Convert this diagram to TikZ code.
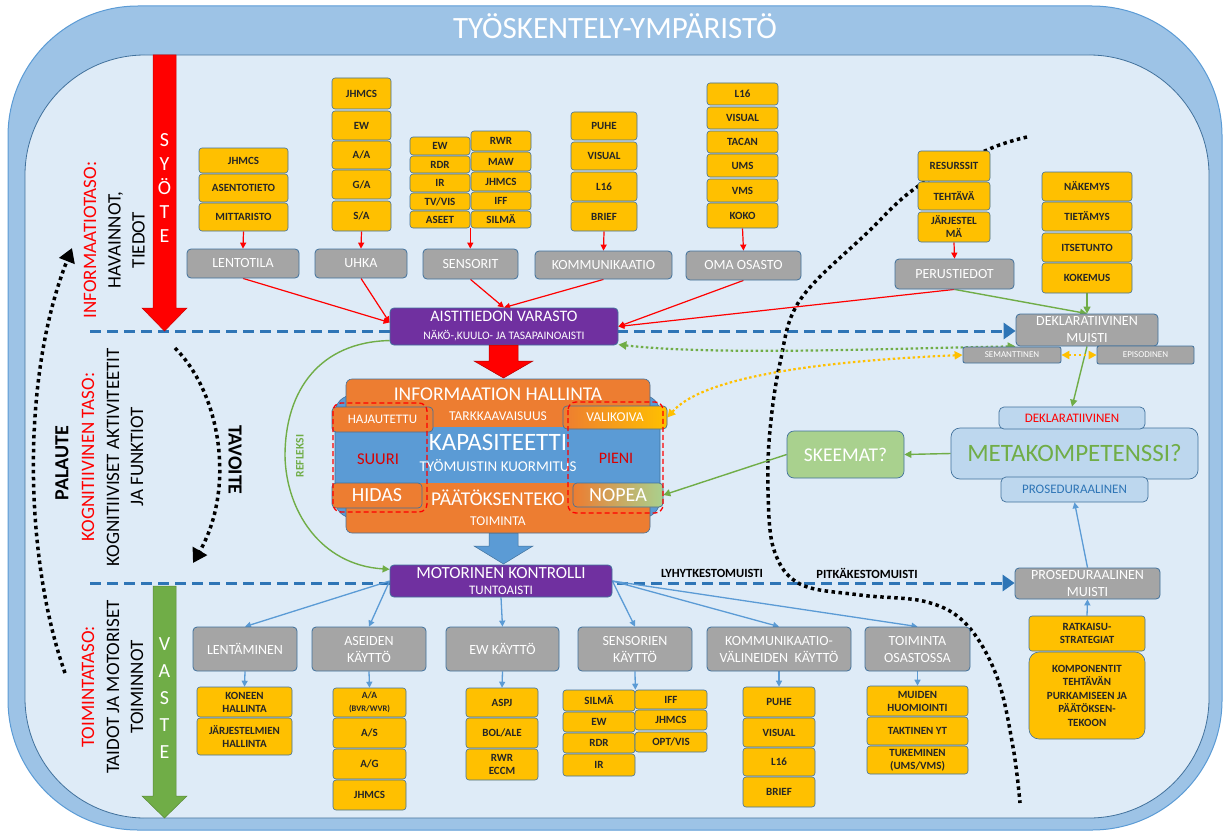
\documentclass[tikz,border=0pt]{standalone}
\usepackage{fontspec}
\setmainfont{Carlito}
\usetikzlibrary{arrows.meta}
\definecolor{outerb}{HTML}{9DC3E6}
\definecolor{outerbd}{HTML}{5B9BD5}
\definecolor{innerb}{HTML}{DEEBF7}
\definecolor{bdr}{HTML}{41719C}
\definecolor{ylw}{HTML}{FFC000}
\definecolor{gry}{HTML}{A5A5A5}
\definecolor{purp}{HTML}{7030A0}
\definecolor{org}{HTML}{ED7D31}
\definecolor{blu}{HTML}{5B9BD5}
\definecolor{dblu}{HTML}{2E75B6}
\definecolor{grn}{HTML}{70AD47}
\definecolor{lgrn}{HTML}{A9D18E}
\definecolor{lblu}{HTML}{BDD7EE}
\definecolor{txtd}{HTML}{262626}
\newcommand\fsz[1]{\fontsize{#1}{#1}\selectfont}
\newcommand\bx[7]{\node[#1,minimum width={#4-#2},minimum height={#5-#3}] (#6) at ({(#2+#4)/2},{(#3+#5)/2}) {#7};}
\pgfdeclarelayer{back}
\pgfdeclarelayer{lines}
\pgfsetlayers{back,lines,main}
\begin{document}
\begin{tikzpicture}[x=1pt,y=-1pt,
 ob/.style={draw=bdr, fill=ylw, rounded corners=3pt, line width=0.6pt, inner sep=0pt, align=center, text=txtd, font=\fontsize{11}{13}\selectfont\bfseries},
 gb/.style={draw=bdr, fill=gry, rounded corners=4pt, line width=0.8pt, inner sep=0pt, align=center, text=white, font=\fontsize{14}{17}\selectfont},
 pb/.style={draw=bdr, fill=purp, rounded corners=4pt, line width=0.8pt, inner sep=0pt, align=center, text=white},
 sob/.style={draw=bdr, fill=org, rounded corners=4pt, line width=0.7pt, inner sep=0pt, text=white},
 lbb/.style={draw=bdr, fill=lblu, rounded corners=6pt, line width=0.7pt, inner sep=0pt, align=center},
 wt/.style={text=white, inner sep=0pt},
 ra/.style={draw=red, line width=1.2pt, -{Triangle[length=6pt,width=6pt]}},
 ba/.style={draw=blu, line width=1.3pt, -{Triangle[length=6pt,width=6pt]}},
 ga/.style={draw=grn, line width=1.4pt, -{Triangle[length=7pt,width=7pt]}},
 dashb/.style={draw=dblu, line width=3pt, dash pattern=on 11pt off 6pt, -{Triangle[length=12pt,width=16pt]}},
 dotb/.style={draw=black, line width=3.5pt, dash pattern=on 3.5pt off 3.5pt},
 gdot/.style={draw=grn, line width=2.2pt, dash pattern=on 2.5pt off 2.5pt, {Triangle[length=8pt,width=8pt]}-{Triangle[length=8pt,width=8pt]}},
 ydot/.style={draw=ylw, line width=2.2pt, dash pattern=on 2.5pt off 2.5pt, {Triangle[length=8pt,width=8pt]}-{Triangle[length=8pt,width=8pt]}},
 side/.style={rotate=90, inner sep=0pt, align=center, font=\fontsize{19}{24}\selectfont}
]
\useasboundingbox (0,0) rectangle (1230,832);
\begin{pgfonlayer}{back}
\draw[fill=outerb, draw=outerbd, line width=1pt, rounded corners=130pt] (8,6) rectangle (1222,830);
\draw[fill=innerb, draw=bdr, line width=0.8pt, rounded corners=120pt] (25,55) rectangle (1209,818);
\end{pgfonlayer}
\node[wt, font=\fsz{31}] (title) at (615,26) {TYÖSKENTELY-YMPÄRISTÖ};
% input / output arrows
\draw[fill=red, draw=red!80!black, line width=0.5pt] (153,55) -- (176,55) -- (176,308) -- (187,308) -- (164.5,331) -- (142,308) -- (153,308) -- cycle;
\node[wt, font=\fontsize{20}{24}\selectfont, align=center] (syote) at (164.5,188) {S\\Y\\Ö\\T\\E};
\draw[fill=grn, draw=grn!80!black, line width=0.5pt] (153,586) -- (176,586) -- (176,796) -- (187,796) -- (164.5,818) -- (142,796) -- (153,796) -- cycle;
\node[wt, font=\fontsize{20}{27}\selectfont, align=center] (vaste) at (164.5,698) {V\\A\\S\\T\\E};
% side labels
\node[side, text=red] (infl) at (90,240) {INFORMAATIOTASO:};
\node[side] (havl) at (126.5,240) {HAVAINNOT,\\TIEDOT};
\node[side, text=red] (kogl) at (88,457) {KOGNITIIVINEN TASO:};
\node[side] (kogt) at (125,457) {KOGNITIIVISET AKTIVITEETIT\\JA FUNKTIOT};
\node[side, text=red] (toil) at (88,687) {TOIMINTATASO:};
\node[side] (toit) at (125,687) {TAIDOT JA MOTORISET\\TOIMINNOT};
\node[rotate=90, inner sep=0pt, font=\fsz{20}\bfseries] (pal) at (62,463) {PALAUTE};
\node[rotate=-90, inner sep=0pt, font=\fsz{20}\bfseries] (tav) at (235,460) {TAVOITE};
% top groups
\bx{ob}{199}{148}{288}{173}{t1a}{JHMCS}
\bx{ob}{199}{174}{288}{202}{t1b}{ASENTOTIETO}
\bx{ob}{199}{203}{288}{231}{t1c}{MITTARISTO}
\bx{gb}{187}{249}{299}{278}{lento}{LENTOTILA}
\bx{ob}{332}{78}{391}{109}{t2a}{JHMCS}
\bx{ob}{332}{111}{391}{140}{t2b}{EW}
\bx{ob}{332}{141}{391}{169}{t2c}{A/A}
\bx{ob}{332}{170}{391}{199}{t2d}{G/A}
\bx{ob}{332}{201}{391}{231}{t2e}{S/A}
\bx{gb}{315}{249}{407}{278}{uhka}{UHKA}
\bx{ob}{410}{137}{470}{155}{t3a}{EW}
\bx{ob}{410}{156}{470}{173}{t3b}{RDR}
\bx{ob}{410}{174}{470}{192}{t3c}{IR}
\bx{ob}{410}{193}{470}{210}{t3d}{TV/VIS}
\bx{ob}{410}{211}{470}{228}{t3e}{ASEET}
\bx{ob}{471}{131}{531}{151}{t3f}{RWR}
\bx{ob}{471}{152}{531}{171}{t3g}{MAW}
\bx{ob}{471}{172}{531}{191}{t3h}{JHMCS}
\bx{ob}{471}{192}{531}{210}{t3i}{IFF}
\bx{ob}{471}{211}{531}{228}{t3j}{SILMÄ}
\bx{gb}{423}{249}{518}{279}{sens}{SENSORIT}
\bx{ob}{571}{112}{637}{140}{t4a}{PUHE}
\bx{ob}{571}{142}{637}{170}{t4b}{VISUAL}
\bx{ob}{571}{172}{637}{201}{t4c}{L16}
\bx{ob}{571}{202}{637}{231}{t4d}{BRIEF}
\bx{gb}{535}{251}{672}{279}{komm}{KOMMUNIKAATIO}
\bx{ob}{707}{83}{778}{105}{t5a}{L16}
\bx{ob}{707}{107}{778}{129}{t5b}{VISUAL}
\bx{ob}{707}{131}{778}{153}{t5c}{TACAN}
\bx{ob}{707}{154}{778}{177}{t5d}{UMS}
\bx{ob}{707}{179}{778}{202}{t5e}{VMS}
\bx{ob}{707}{203}{778}{228}{t5f}{KOKO}
\bx{gb}{686}{251}{801}{280}{oma}{OMA OSASTO}
\bx{ob}{918}{151}{990}{181}{t6a}{RESURSSIT}
\bx{ob}{918}{182}{990}{210}{t6b}{TEHTÄVÄ}
\bx{ob}{918}{212}{990}{242}{t6c}{JÄRJESTEL\\MÄ}
\bx{gb}{895}{259}{1014}{289}{perus}{PERUSTIEDOT}
\bx{ob}{1042}{172}{1132}{201}{t7a}{NÄKEMYS}
\bx{ob}{1042}{202}{1132}{231}{t7b}{TIETÄMYS}
\bx{ob}{1042}{233}{1132}{262}{t7c}{ITSETUNTO}
\bx{ob}{1042}{263}{1132}{293}{t7d}{KOKEMUS}
\bx{gb}{1016}{314}{1158}{346}{dekl}{DEKLARATIIVINEN\\MUISTI}
\bx{gb,font=\fsz{9},rounded corners=2pt}{963}{347}{1061}{363}{sem}{SEMANTTINEN}
\bx{gb,font=\fsz{9},rounded corners=2pt}{1097}{346}{1194}{364}{epi}{EPISODINEN}
% purple boxes
\bx{pb,font=\fontsize{16}{18}\selectfont}{390}{308}{618}{345}{aist}{AISTITIEDON VARASTO\\{\fsz{11.5}NÄKÖ-,KUULO- JA TASAPAINOAISTI}}
\bx{pb,font=\fontsize{17}{16}\selectfont}{390}{565}{612}{597}{mot}{MOTORINEN KONTROLLI\\{\fsz{13}TUNTOAISTI}}
% block arrows
\draw[fill=red, draw=red!70!black, line width=0.5pt] (489,345) -- (518,345) -- (518,361) -- (533,361) -- (503.5,378) -- (474,361) -- (489,361) -- cycle;
\draw[fill=blu, draw=bdr, line width=0.5pt] (489,533) -- (518,533) -- (518,546) -- (533,546) -- (503.5,564) -- (474,546) -- (489,546) -- cycle;
% central block
\draw[fill=blu, draw=bdr, line width=0.6pt, rounded corners=18pt] (335,395) rectangle (660,518);
\draw[fill=org, draw=bdr, line width=0.6pt, rounded corners=6pt] (346,379) rectangle (650,432);
\draw[fill=org, draw=bdr, line width=0.6pt, rounded corners=6pt] (346,480) rectangle (650,533);
\fill[blu] (336,427) rectangle (659,483);
\node[wt, font=\fsz{19.5}] (infh) at (498,394) {INFORMAATION HALLINTA};
\node[wt, font=\fsz{13.5}] (tark) at (498,416) {TARKKAAVAISUUS};
\node[wt, font=\fsz{25}] (kap) at (498,442) {KAPASITEETTI};
\node[wt, font=\fsz{15}] (tyom) at (498,466) {TYÖMUISTIN KUORMITUS};
\node[inner sep=0pt, text=red!85!black, font=\fsz{16.5}] (suuri) at (378,459) {SUURI};
\node[inner sep=0pt, text=red!85!black, font=\fsz{16}] (pieni) at (616,458) {PIENI};
\node[wt, font=\fsz{19.5}] (paat) at (498,498) {PÄÄTÖKSENTEKO};
\node[wt, font=\fsz{13.5}] (toiminta) at (498,521) {TOIMINTA};
\bx{sob,font=\fsz{13}}{332}{407}{433}{432}{haj}{HAJAUTETTU}
\bx{sob,left color=org,right color=ylw,font=\fsz{13.5}}{563}{406}{667}{429}{valik}{VALIKOIVA}
\bx{sob,font=\fsz{20}}{332}{483}{422}{508}{hidas}{HIDAS}
\bx{sob,left color=org,right color=lgrn,font=\fsz{20}}{573}{483}{663}{507}{nopea}{NOPEA}
\draw[red, line width=1.3pt, dash pattern=on 5pt off 3pt, rounded corners=8pt] (333,403) rectangle (427,512);
\draw[red, line width=1.3pt, dash pattern=on 5pt off 3pt, rounded corners=8pt] (568,402) rectangle (663,513);
\node[rotate=90, inner sep=0pt, text=grn, font=\fsz{11.5}\bfseries] (refl) at (300,456) {REFLEKSI};
% right side
\bx{lbb,text=grn,font=\fsz{25},rounded corners=9pt}{951}{428}{1198}{479}{meta}{METAKOMPETENSSI?}
\bx{lbb,text=red,font=\fsz{13},rounded corners=5pt}{999}{407}{1145}{429}{dsm}{DEKLARATIIVINEN}
\bx{lbb,text=dblu,font=\fsz{13},rounded corners=5pt}{1001}{477}{1148}{502}{psm}{PROSEDURAALINEN}
\bx{lbb,fill=lgrn,text=white,font=\fsz{19.5},rounded corners=7pt}{787}{431}{904}{478}{skeem}{SKEEMAT?}
\bx{gb}{1015}{568}{1160}{599}{prmu}{PROSEDURAALINEN\\MUISTI}
\bx{ob}{1029}{616}{1145}{651}{ratk}{RATKAISU-\\STRATEGIAT}
\bx{ob,rounded corners=10pt,font=\fontsize{11}{13.5}\selectfont\bfseries}{1029}{652}{1145}{739}{komp}{KOMPONENTIT\\TEHTÄVÄN\\PURKAMISEEN JA\\PÄÄTÖKSEN-\\TEKOON}
\node[inner sep=0pt, font=\fsz{12.5}\bfseries] (lyh) at (712,573) {LYHYTKESTOMUISTI};
\node[inner sep=0pt, font=\fsz{12.5}\bfseries] (pitk) at (867,573) {PITKÄKESTOMUISTI};
% bottom groups
\bx{gb}{193}{627}{297}{671}{lentm}{LENTÄMINEN}
\bx{gb}{312}{627}{426}{671}{aseid}{ASEIDEN\\KÄYTTÖ}
\bx{gb}{446}{627}{559}{671}{ewk}{EW KÄYTTÖ}
\bx{gb}{578}{627}{692}{671}{sensk}{SENSORIEN\\KÄYTTÖ}
\bx{gb}{707}{627}{851}{671}{kommk}{KOMMUNIKAATIO-\\VÄLINEIDEN\ \ KÄYTTÖ}
\bx{gb}{865}{627}{970}{671}{toim}{TOIMINTA\\OSASTOSSA}
\bx{ob}{197}{687}{292}{717}{b1a}{KONEEN\\HALLINTA}
\bx{ob}{197}{718}{292}{755}{b1b}{JÄRJESTELMIEN\\HALLINTA}
\bx{ob}{333}{688}{406}{717}{b2a}{{\fsz{9.5}A/A}\\{\fsz{8.5}(BVR/WVR)}}
\bx{ob}{333}{718}{406}{748}{b2b}{A/S}
\bx{ob}{333}{749}{406}{779}{b2c}{A/G}
\bx{ob}{333}{780}{406}{810}{b2d}{JHMCS}
\bx{ob}{466}{688}{538}{717}{b3a}{ASPJ}
\bx{ob}{466}{718}{538}{748}{b3b}{BOL/ALE}
\bx{ob}{466}{749}{538}{780}{b3c}{RWR\\ECCM}
\bx{ob}{563}{690}{635}{711}{b4a}{SILMÄ}
\bx{ob}{563}{712}{635}{732}{b4b}{EW}
\bx{ob}{563}{733}{635}{753}{b4c}{RDR}
\bx{ob}{563}{754}{635}{776}{b4d}{IR}
\bx{ob}{635}{690}{707}{709}{b4e}{IFF}
\bx{ob}{635}{710}{707}{730}{b4f}{JHMCS}
\bx{ob}{635}{732}{707}{752}{b4g}{OPT/VIS}
\bx{ob}{743}{687}{815}{717}{b5a}{PUHE}
\bx{ob}{743}{718}{815}{747}{b5b}{VISUAL}
\bx{ob}{743}{748}{815}{776}{b5c}{L16}
\bx{ob}{743}{777}{815}{807}{b5d}{BRIEF}
\bx{ob}{867}{686}{968}{716}{b6a}{MUIDEN\\HUOMIOINTI}
\bx{ob}{867}{717}{968}{745}{b6b}{TAKTINEN YT}
\bx{ob}{867}{746}{968}{774}{b6c}{TUKEMINEN\\(UMS/VMS)}
% connectors
\begin{pgfonlayer}{lines}
\coordinate (d1) at (90,331);
\coordinate (d2) at (90,583);
\draw[dashb] (d1) -- (d1 -| dekl.west);
\draw[dashb] (d2) -- (d2 -| prmu.west);
\draw[dotb] plot[smooth, tension=0.6] coordinates {(1027,137) (987,150) (917,187) (867,233) (800,300) (780,363) (770,430) (768,490) (774,550) (800,584) (860,595) (927,602) (967,625) (997,677) (1013,747) (1020,803)};
\draw[dotb, -{Triangle[length=14pt,width=16pt]}] (65,673) .. controls (25,560) and (20,380) .. (72,248);
\draw[dotb, -{Triangle[length=14pt,width=16pt]}] (175,348) .. controls (222,395) and (235,490) .. (193,563);
\draw[ra] (t1c.south) -- (lento.north);
\draw[ra] (t2e.south) -- (uhka.north);
\draw[ra] (t3e.south east) -- (t3e.south east |- sens.north);
\draw[ra] (t4d.south) -- (komm.north);
\draw[ra] (t5f.south) -- (oma.north);
\draw[ra] (t6c.south) -- (perus.north);
\draw[ra] (lento.south) -- (aist.178);
\draw[ra] (uhka.south) -- (aist.178);
\draw[ra] (sens.south) -- (aist.north);
\draw[ra] (komm.south) -- (aist.north);
\draw[ra] (oma.south) -- (aist.east);
\draw[ra] (perus.south) -- (aist.east);
\draw[ga] (perus.south) -- (dekl.north);
\draw[ga] (t7d.south) -- (dekl.north);
\draw[ga] (dekl.south) -- (dsm.north);
\draw[ga] (meta.west) -- (skeem.east);
\draw[ga] (skeem.west) -- (nopea.east);
\draw[ba] (prmu.north) -- (psm.south);
\draw[ba] (ratk.north) -- (prmu.south);
\draw[gdot] (aist.-9) .. controls (720,356) and (900,348) .. (dekl.south west);
\draw[ydot] (sem.west) .. controls (800,362) and (700,380) .. (valik.east);
\draw[ydot] (sem.east) -- (epi.west);
\coordinate (rfx) at (285,456);
\draw[ga] (aist.187) .. controls (320,342) and (285,390) .. (rfx) .. controls (286,510) and (320,565) .. (mot.174);
\draw[ba] (mot.west) -- (lentm.north);
\draw[ba] (mot.west) -- (aseid.north);
\draw[ba] (mot.south) -- (ewk.north);
\draw[ba] (mot.east) -- (sensk.north);
\draw[ba] (mot.east) -- (kommk.north);
\draw[ba] (mot.east) -- (toim.north);
\draw[ba] (lentm.south) -- (b1a.north);
\draw[ba] (aseid.south) -- (b2a.north);
\draw[ba] (ewk.south) -- (b3a.north);
\draw[ba] (sensk.south) -- (b4a.north east);
\draw[ba] (kommk.south) -- (b5a.north);
\draw[ba] (toim.south) -- (b6a.north);
\end{pgfonlayer}
\end{tikzpicture}
\end{document}
